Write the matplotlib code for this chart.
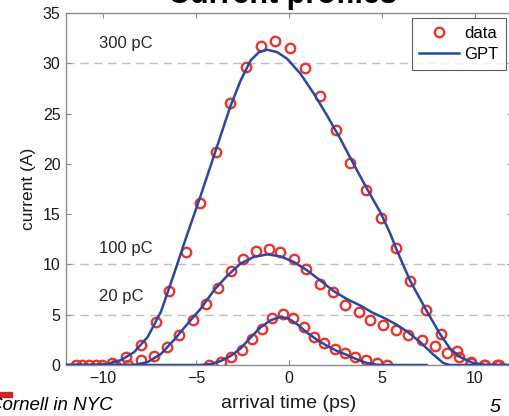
"""Current profiles: measured vs GPT-simulated bunch current at three charges."""

import matplotlib
matplotlib.use('Agg')
import matplotlib.pyplot as plt
from matplotlib.patches import Rectangle

plt.rcParams['font.family'] = ['Liberation Sans', 'DejaVu Sans']

# measured profiles (arrival time in ps, current in A)
x300 = [-11.15, -10.37, -9.55, -8.75, -7.96, -7.16, -6.45, -5.55, -4.8, -3.94,
        -3.17, -2.33, -1.53, -0.76, 0.08, 0.85, 1.69, 2.53, 3.30, 4.14,
        4.94, 5.76, 6.51, 7.37, 8.16, 9.02, 9.82, 10.55, 11.3]
y300 = [0, 0, 0.2, 0.8, 2.0, 4.3, 7.4, 11.2, 16.1, 21.2,
        26.1, 29.6, 31.7, 32.2, 31.5, 29.5, 26.7, 23.4, 20.1, 17.4,
        14.6, 11.6, 8.4, 5.5, 3.1, 1.4, 0.3, 0, 0]

x100 = [-11.48, -10.78, -10.08, -9.38, -8.68, -7.96, -7.25, -6.57, -5.9, -5.19,
        -4.48, -3.82, -3.14, -2.46, -1.76, -1.08, -0.46, 0.26, 0.94, 1.65,
        2.37, 3.03, 3.74, 4.37, 5.08, 5.76, 6.42, 7.14, 7.86, 8.48,
        9.16, 9.82, 10.5, 11.2]
y100 = [0, 0, 0, 0, 0, 0.5, 0.9, 1.8, 3.0, 4.5,
        6.1, 7.7, 9.3, 10.5, 11.35, 11.5, 11.25, 10.5, 9.5, 8.1,
        7.3, 6.0, 5.3, 4.5, 4.0, 3.5, 3.0, 2.5, 1.9, 1.2,
        0.8, 0.2, 0, 0]

x20 = [-4.3, -3.67, -3.1, -2.55, -2.0, -1.47, -0.92, -0.33, 0.2, 0.8,
       1.33, 1.88, 2.5, 3.03, 3.57, 4.17, 4.71, 5.26]
y20 = [0, 0.3, 0.75, 1.45, 2.55, 3.6, 4.7, 5.05, 4.65, 3.8,
       2.8, 2.15, 1.6, 1.2, 0.8, 0.45, 0.15, 0]

# GPT simulation curves
g300x = [-12, -10.3, -9.75, -9.03, -8.32, -7.6, -6.89, -6.18, -5.55, -4.78,
         -3.94, -3.17, -2.6, -2.06, -1.62, -1.17, -0.63, -0.1, 0.62, 1.33,
         2.05, 2.76, 3.47, 4.19, 4.91, 5.44, 5.76, 6.51, 7.37, 8.12,
         8.66, 9.2, 9.9, 10.6, 12]
g300y = [0, 0, 0.1, 0.5, 1.3, 2.8, 5.3, 9.1, 12.6, 16.7,
         21.35, 25.65, 28.3, 30.3, 31.1, 31.35, 31.1, 30.45, 28.95, 27.0,
         24.8, 22.5, 20.0, 17.55, 15.2, 13.1, 11.6, 8.4, 5.5, 3.1,
         1.65, 0.8, 0.2, 0, 0]

g100x = [-12, -8.32, -7.6, -6.89, -6.18, -5.46, -4.75, -4.03, -3.31, -2.6,
         -1.89, -1.17, -0.46, 0.26, 0.98, 1.69, 2.4, 3.12, 3.8, 4.5,
         5.2, 5.8, 6.34, 7.05, 7.76, 8.3, 8.66, 12]
g100y = [0, 0, 0.3, 1.1, 2.5, 4.1, 5.6, 7.45, 8.9, 10.1,
         10.75, 11.0, 10.8, 10.25, 9.4, 8.4, 7.35, 6.55, 5.95, 5.2,
         4.6, 4.0, 3.35, 2.3, 1.05, 0.2, 0, 0]

g20x = [-12, -4.75, -4.2, -3.67, -3.14, -2.6, -2.06, -1.53, -0.99, -0.46,
        -0.01, 0.44, 0.98, 1.51, 2.05, 2.58, 3.12, 3.6, 4.19, 4.73,
        5.0, 7.4]
g20y = [0, 0, 0.1, 0.4, 0.9, 1.65, 2.75, 3.75, 4.45, 4.8,
        4.6, 4.05, 3.2, 2.5, 1.9, 1.4, 1.0, 0.6, 0.2, 0.03,
        0, 0]

ref_levels = [30, 10, 5]
charge_labels = ['300 pC', '100 pC', '20 pC']
label_pos = [(-10.2, 32.0), (-10.2, 11.6), (-10.2, 6.8)]

RED = '#e8352d'
BLUE = '#2a48a3'
GRAY = '#8c8c8c'
INK = '#1a1a1a'

W, H = 510, 416
fig = plt.figure(figsize=(W / 100, H / 100), dpi=100)
ax = fig.add_axes([66 / W, 1 - 365 / H, 446 / W, 352 / H])

for lvl in ref_levels:
    ax.axhline(lvl, color='#c0c0c0', lw=1.0, ls=(0, (6, 4)), zorder=1)

mk = dict(ls='none', marker='o', ms=6.8, mfc='none', mec=RED, mew=1.7, zorder=2)
ax.plot(x300, y300, label='data', **mk)
ax.plot(x100, y100, **mk)
ax.plot(x20, y20, **mk)

ax.plot(g300x, g300y, color=BLUE, lw=1.8, label='GPT', zorder=3)
ax.plot(g100x, g100y, color=BLUE, lw=1.8, zorder=3)
ax.plot(g20x, g20y, color=BLUE, lw=1.8, zorder=3)

for txt, (tx, ty) in zip(charge_labels, label_pos):
    ax.text(tx, ty, txt, fontsize=12, color='#262626', va='center', ha='left')

ax.set_xlim(-12, 12)
ax.set_ylim(0, 35)
ax.set_xticks([-10, -5, 0, 5, 10])
ax.set_yticks(range(0, 36, 5))
ax.tick_params(direction='in', length=3.5, width=0.8, color=GRAY,
               labelsize=11.5, labelcolor=INK, top=True, right=True, pad=4)
for sp in ax.spines.values():
    sp.set_color(GRAY)
    sp.set_linewidth(1.0)

ax.set_xlabel('arrival time (ps)', fontsize=14, color=INK, labelpad=7)
ax.set_ylabel('current (A)', fontsize=12.5, color=INK, labelpad=5)

leg = ax.legend(loc='upper right', bbox_to_anchor=(506 / W, 1 - 18 / H),
                bbox_transform=fig.transFigure, frameon=True, fancybox=False,
                fontsize=12, handlelength=2.4, handletextpad=0.3,
                borderpad=0.45, labelspacing=0.4, borderaxespad=0)
leg.get_frame().set_edgecolor('#333333')
leg.get_frame().set_linewidth(0.8)

# slide furniture around the chart
fig.text(282 / W, 1 - 2.5 / H, 'Current profiles', fontsize=22, fontweight='bold',
         ha='center', va='baseline', color='black')
fig.patches.append(Rectangle((0, 1 - 397 / H), 12 / W, 5 / H,
                             transform=fig.transFigure, color='#c8281e'))
fig.text(-11 / W, 1 - 406 / H, 'Cornell in NYC', fontsize=13.5, style='italic',
         ha='left', va='center', color='black')
fig.text(495 / W, 1 - 408 / H, '5', fontsize=14, style='italic',
         ha='center', va='center', color='black')

fig.savefig('out.png', dpi=100)
